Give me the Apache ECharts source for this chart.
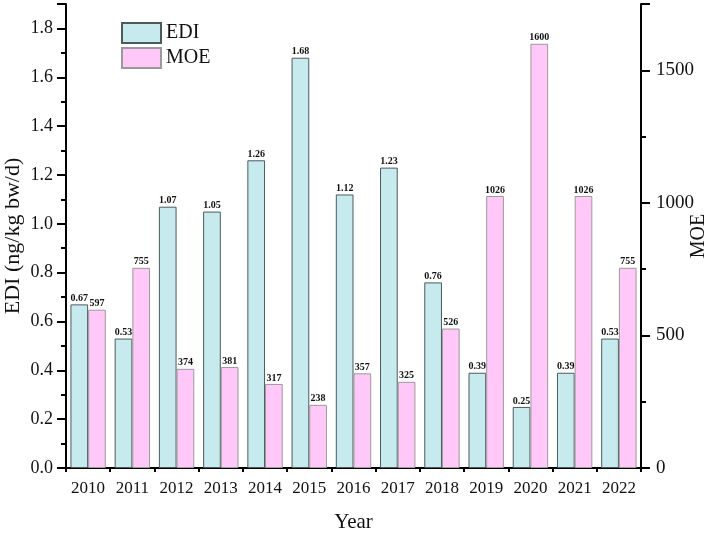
<!DOCTYPE html>
<html>
<head>
<meta charset="utf-8">
<script src="https://cdn.jsdelivr.net/npm/echarts@6/dist/echarts.min.js"></script>
<style>html,body{margin:0;padding:0;background:#fff}#c{width:708px;height:534px}</style>
</head>
<body>
<div id="c"></div>
<script>
const years = ['2010','2011','2012','2013','2014','2015','2016','2017','2018','2019','2020','2021','2022'];
const ediValues = [0.67,0.53,1.07,1.05,1.26,1.68,1.12,1.23,0.76,0.39,0.25,0.39,0.53];
const moeValues = [597,755,374,381,317,238,357,325,526,1026,1600,1026,755];
const ediTicks = [0,0.2,0.4,0.6,0.8,1.0,1.2,1.4,1.6,1.8];
const moeTicks = [0,500,1000,1500];

const FONT = '"Liberation Serif", "Times New Roman", serif';
const chart = echarts.init(document.getElementById('c'), null, {renderer:'canvas'});
const lbl = {show:true, position:'top', distance:1, fontFamily:FONT, fontWeight:'bold', fontSize:10, color:'#111'};
chart.setOption({
  animation:false,
  backgroundColor:'#fff',
  grid:{left:66, right:67, top:4, bottom:66, containLabel:false, outerBoundsMode:'none'},
  legend:{
    orient:'vertical', left:116, top:17, itemWidth:39, itemHeight:20, itemGap:3,
    icon:'rect',
    textStyle:{fontFamily:FONT, fontSize:20, color:'#111'},
    data:['EDI','MOE']
  },
  xAxis:[{
    type:'category', data:years, position:'bottom',
    name:'Year', nameLocation:'middle', nameGap:44, nameMoveOverlap:false,
    nameTextStyle:{fontFamily:FONT, fontSize:21, color:'#111'},
    axisLine:{lineStyle:{color:'#000', width:2}},
    axisTick:{alignWithLabel:true, length:7, lineStyle:{color:'#000', width:2}},
    axisLabel:{fontFamily:FONT, fontSize:17, color:'#111', margin:12}
  },{
    type:'category', data:years, position:'bottom', offset:0,
    axisLine:{show:false},
    axisTick:{show:true, length:4, lineStyle:{color:'#000', width:2}},
    axisLabel:{show:false}
  }],
  yAxis:[{
    type:'value', min:0, max:1.9, interval:0.2, position:'left',
    name:'EDI (ng/kg bw/d)', nameLocation:'middle', nameGap:42, nameMoveOverlap:false,
    nameTextStyle:{fontFamily:FONT, fontSize:22, color:'#111'},
    axisLine:{show:true, lineStyle:{color:'#000', width:2}},
    axisTick:{show:true, length:9, lineStyle:{color:'#000', width:2}},
    minorTick:{show:true, splitNumber:2, length:5, lineStyle:{color:'#000', width:2}},
    splitLine:{show:false},
    axisLabel:{fontFamily:FONT, fontSize:18, color:'#111', margin:13, showMaxLabel:false,
      formatter:v=>ediTicks.some(t=>Math.abs(t-v)<1e-9)?v.toFixed(1):''}
  },{
    type:'value', min:0, max:1750, interval:500, position:'right',
    name:'MOE', nameLocation:'middle', nameGap:48, nameMoveOverlap:false,
    nameTextStyle:{fontFamily:FONT, fontSize:20, color:'#111'},
    axisLine:{show:true, lineStyle:{color:'#000', width:2}},
    axisTick:{show:true, length:9, lineStyle:{color:'#000', width:2}},
    minorTick:{show:true, splitNumber:2, length:5, lineStyle:{color:'#000', width:2}},
    splitLine:{show:false},
    axisLabel:{fontFamily:FONT, fontSize:19, color:'#111', margin:15, showMaxLabel:false,
      formatter:v=>moeTicks.includes(v)?String(v):''}
  }],
  series:[{
    name:'EDI', type:'bar', data:ediValues, xAxisIndex:0, yAxisIndex:0,
    barGap:'0%', barCategoryGap:'20%',
    itemStyle:{color:'#c6eaee', borderColor:'#4d5a5c', borderWidth:1},
    label:Object.assign({formatter:p=>p.value.toFixed(2)}, lbl)
  },{
    name:'MOE', type:'bar', data:moeValues, xAxisIndex:0, yAxisIndex:1,
    barGap:'0%', barCategoryGap:'20%',
    itemStyle:{color:'#ffc8f8', borderColor:'#9a9a9a', borderWidth:1},
    label:Object.assign({formatter:p=>String(p.value)}, lbl)
  }]
});
</script>
</body>
</html>
